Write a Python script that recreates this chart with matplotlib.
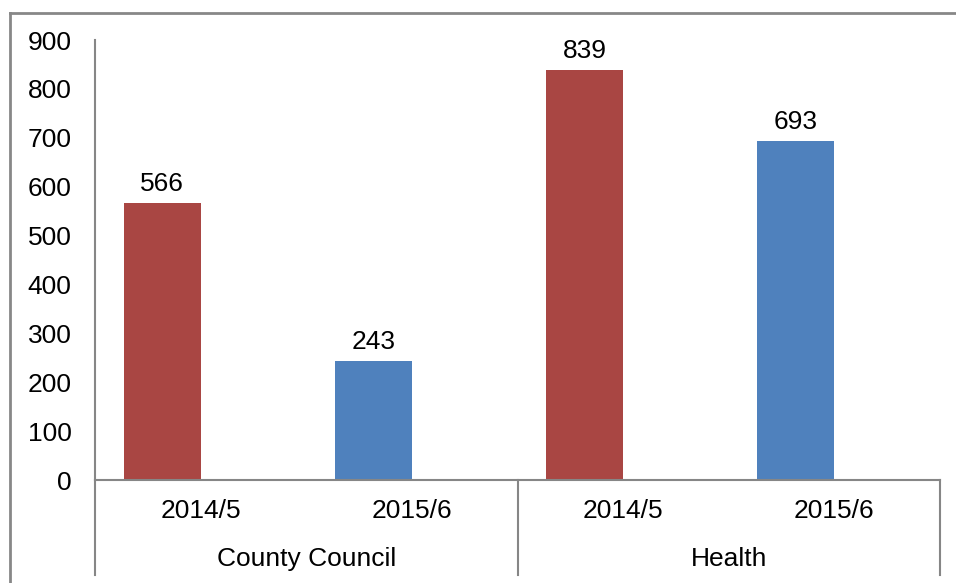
import matplotlib
matplotlib.use("Agg")
import matplotlib.pyplot as plt
from matplotlib.lines import Line2D

plt.rcParams['font.family'] = ['Liberation Sans', 'DejaVu Sans']

groups = ["County Council", "Health"]
periods = ["2014/5", "2015/6", "2014/5", "2015/6"]
values = [566, 243, 839, 693]
colors = ["#A94643", "#4F81BD", "#A94643", "#4F81BD"]
yticks = [0, 100, 200, 300, 400, 500, 600, 700, 800, 900]

W, H = 956, 583
fig = plt.figure(figsize=(W / 100, H / 100), dpi=100)
ax = fig.add_axes([95 / W, 1 - 480 / H, 845 / W, 440 / H])

fs = 19
gray = "#868686"
x = list(range(len(values)))
bw = 0.364
bars = ax.bar([i - bw / 2 for i in x], values, width=bw, color=colors, zorder=2)
for b, v in zip(bars, values):
    ax.annotate(str(v), (b.get_x() + b.get_width() / 2, v), xytext=(0, 5),
                textcoords="offset points", ha="center", va="bottom", fontsize=fs)

ax.set_xlim(-0.5, 3.5)
ax.set_ylim(0, 900)
ax.set_yticks(yticks)
ax.set_yticklabels([str(t) for t in yticks], fontsize=fs)
ax.set_xticks(x)
ax.set_xticklabels(periods, fontsize=fs)
ax.tick_params(axis="y", length=0, pad=17)
ax.tick_params(axis="x", length=0, pad=14)
for s in ["top", "right"]:
    ax.spines[s].set_visible(False)
for s in ["left", "bottom"]:
    ax.spines[s].set_color(gray)
    ax.spines[s].set_linewidth(1.5)

# category group labels and separators
trans = ax.get_xaxis_transform()
ext = -95 / 440  # extend down to y=575 px
for xs in [-0.5, 1.5, 3.5]:
    ax.add_line(Line2D([xs, xs], [0, ext], transform=trans, color=gray,
                       lw=1.5, clip_on=False))
for gi, g in enumerate(groups):
    ax.text(gi * 2 + 0.5, -79 / 440, g, transform=trans, ha="center",
            va="center", fontsize=fs)

# outer chart border
bc = "#878787"
fig.add_artist(Line2D([10 / W, 10 / W], [0, 1 - 13 / H], transform=fig.transFigure,
                      color=bc, lw=2))
fig.add_artist(Line2D([10 / W, 1], [1 - 13 / H, 1 - 13 / H], transform=fig.transFigure,
                      color=bc, lw=2))

fig.savefig("out.png", dpi=100)
